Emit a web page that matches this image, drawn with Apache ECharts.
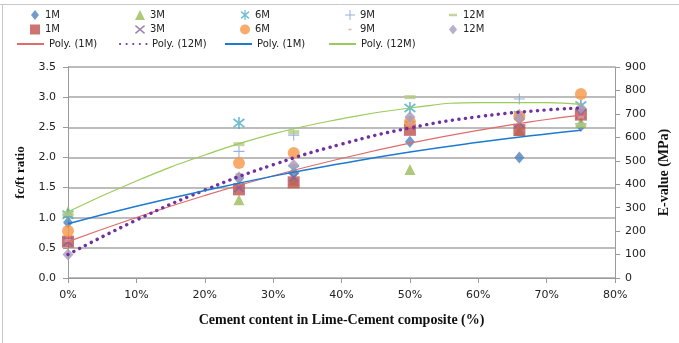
<!DOCTYPE html>
<html><head><meta charset="utf-8">
<script src="https://cdn.jsdelivr.net/npm/echarts@6/dist/echarts.min.js"></script>
<style>html,body{margin:0;padding:0;background:#fff}#c{width:679px;height:343px}</style>
</head><body><div id="c"></div>
<script>
// x positions (% cement)
const xCats = [0, 25, 33, 50, 66, 75];
// fc/ft ratio series (left axis)
const ratio1M  = [0.92, 1.65, 1.74, 2.26, 2.00, 2.52];
const ratio3M  = [1.10, 1.30, 1.62, 1.80, 2.45, 2.58];
const ratio6M  = [1.05, 2.57, 1.80, 2.82, 2.70, 2.86];
const ratio9M  = [1.05, 2.10, 2.37, 2.60, 2.97, 2.56];
const ratio12M = [1.06, 2.22, 2.42, 3.00, 2.72, 2.54];
// E-value series (right axis, MPa)
const E1M  = [155, 378, 408, 632, 631, 697];
const E3M  = [155, 385, 430, 650, 660, 700];
const E6M  = [200, 490, 533, 665, 690, 785];
const E9M  = [160, 440, 480, 655, 704, 687];
const E12M = [100, 430, 482, 687, 683, 725];
// trendline values
const trendX     = [0, 10, 20, 30, 40, 50, 60, 70, 75];
const trendE1M   = [155, 258, 352, 436, 510, 575, 630, 676, 695];
const trendE12M  = [100, 247, 375, 483, 571, 640, 688, 717, 725];
const trendR1M   = [0.90, 1.19, 1.45, 1.69, 1.90, 2.09, 2.25, 2.39, 2.45];
const trendR12M  = [1.10, 1.61, 2.04, 2.39, 2.64, 2.82, 2.91, 2.91, 2.88];
// axis ticks
const xTicks = [0, 10, 20, 30, 40, 50, 60, 70, 80];
const leftTicks = [0, 0.5, 1, 1.5, 2, 2.5, 3, 3.5];
const rightTicks = [0, 100, 200, 300, 400, 500, 600, 700, 800, 900];

const pair = (xs, ys) => xs.map((x, i) => [x, ys[i]]);

const SYM = {
  plus: 'path://M4.5,0H5.5V10H4.5Z M0,4.5H10V5.5H0Z',
  star: 'path://M4.4,0H5.6V10H4.4Z M0.6,2.2L1.4,1.0L9.4,7.8L8.6,9.0Z M8.6,1.0L9.4,2.2L1.4,9.0L0.6,7.8Z',
  cross: 'path://M0.6,2.2L1.4,1.0L9.4,7.8L8.6,9.0Z M8.6,1.0L9.4,2.2L1.4,9.0L0.6,7.8Z',
  dash: 'path://M0,0H10V3H0Z'
};
const PAD = ' M-0.01,-0.01h0.01v0.01h-0.01Z M10,10h0.01v0.01h-0.01Z';
const ICON = {
  diamond: 'path://M5,0L9,5L5,10L1,5Z',
  dash: 'path://M1,3.8H9V6.2H1Z' + PAD,
  smallDash: 'path://M3.5,4.2H6.5V5.8H3.5Z' + PAD,
  rect: 'path://M0.5,0.5H9.5V9.5H0.5Z'
};

const names = {
  r1M: '1M', r3M: '3M', r6M: '6M', r9M: '9M', r12M: '12M',
  E1M: '1M', E3M: '3M', E6M: '6M', E9M: '9M', E12M: '12M',
  tE1M: 'Poly. (1M)', tE12M: 'Poly. (12M)', tR1M: 'Poly. (1M)', tR12M: 'Poly. (12M)'
};

function scat(name, data, yIdx, symbol, size, color) {
  return { name, type: 'scatter', yAxisIndex: yIdx, data: pair(xCats, data),
    symbol, symbolSize: size, itemStyle: { color }, z: 3 };
}
function trend(name, data, yIdx, color, type, width, cap) {
  return { name, type: 'line', yAxisIndex: yIdx, data: pair(trendX, data), smooth: true,
    symbol: 'none', showSymbol: false, lineStyle: { color, type, width, cap: cap || 'butt' },
    itemStyle: { color }, z: 4 };
}

const textStyle = { fontSize: 10, lineHeight: 10, color: '#222', fontFamily: 'DejaVu Sans' };
const symLegendBase = {
  orient: 'vertical', top: 10, padding: 0, itemWidth: 10, itemHeight: 10, itemGap: 4.5,
  textStyle, formatter: n => names[n], selectedMode: false
};
const lineLegendBase = {
  orient: 'horizontal', top: 39, padding: 0, itemWidth: 27, itemHeight: 10,
  textStyle, formatter: n => names[n], selectedMode: false
};
const hideSym = n => ({ name: n, itemStyle: { opacity: 0 } });
const legends = [
  { left: 30, data: [{ name: 'r1M', icon: ICON.diamond }, { name: 'E1M', icon: ICON.rect }] },
  { left: 135, data: ['r3M', { name: 'E3M' }] },
  { left: 240, data: ['r6M', 'E6M'] },
  { left: 345, data: ['r9M', { name: 'E9M', icon: ICON.smallDash }] },
  { left: 448, data: [{ name: 'r12M', icon: ICON.dash }, { name: 'E12M', icon: ICON.diamond }] }
].map(l => Object.assign({}, symLegendBase, l)).concat([
  { left: 16, data: [hideSym('tE1M')] },
  { left: 119, data: [hideSym('tE12M')] },
  { left: 224, data: [hideSym('tR1M')] },
  { left: 328, data: [hideSym('tR12M')] }
].map(l => Object.assign({}, lineLegendBase, l)));

const axisGray = '#9a9a9a';
const labelStyle = { fontSize: 11, color: '#222', fontFamily: 'DejaVu Sans' };
const nameStyle = { fontSize: 14, fontWeight: 'bold', color: '#111', fontFamily: 'Liberation Serif' };

const option = {
  animation: false,
  backgroundColor: '#fff',
  legend: legends,
  grid: { left: 68, right: 60, top: 67, bottom: 65 },
  xAxis: {
    type: 'value', min: xTicks[0], max: xTicks[xTicks.length - 1], interval: 10,
    axisLine: { show: true, lineStyle: { color: axisGray } },
    axisTick: { show: true, length: 5, lineStyle: { color: axisGray } },
    splitLine: { show: false },
    axisLabel: Object.assign({ formatter: '{value}%', margin: 12 }, labelStyle),
    name: 'Cement content in Lime-Cement composite (%)', nameLocation: 'middle', nameGap: 35,
    nameTextStyle: nameStyle
  },
  yAxis: [
    { type: 'value', min: leftTicks[0], max: leftTicks[leftTicks.length - 1], interval: 0.5,
      axisLine: { show: true, lineStyle: { color: axisGray } },
      axisTick: { show: true, length: 5, lineStyle: { color: axisGray } },
      splitLine: { show: true, lineStyle: { color: '#a6a6a6', width: 1.5 } },
      axisLabel: Object.assign({ formatter: v => v.toFixed(1), margin: 12 }, labelStyle),
      name: 'fc/ft ratio', nameLocation: 'middle', nameGap: 34,
      nameTextStyle: Object.assign({}, nameStyle, { fontSize: 13 }) },
    { type: 'value', min: rightTicks[0], max: rightTicks[rightTicks.length - 1], interval: 100,
      position: 'right',
      axisLine: { show: true, lineStyle: { color: axisGray } },
      axisTick: { show: true, length: 5, lineStyle: { color: axisGray } },
      splitLine: { show: false },
      axisLabel: Object.assign({ margin: 10 }, labelStyle),
      name: 'E-value (MPa)', nameLocation: 'middle', nameGap: 35, nameRotate: 90, nameTextStyle: nameStyle }
  ],
  series: [
    scat('r1M', ratio1M, 0, 'diamond', [10, 12], '#4F81BD'),
    scat('r3M', ratio3M, 0, 'triangle', 11, '#9BBB59'),
    scat('r6M', ratio6M, 0, SYM.star, 12, '#4BACC6'),
    scat('r9M', ratio9M, 0, SYM.plus, 11, '#7F9FCF'),
    scat('r12M', ratio12M, 0, SYM.dash, [11, 4], '#B3CC82'),
    scat('E1M', E1M, 1, 'rect', 12, '#C0504D'),
    scat('E3M', E3M, 1, SYM.cross, 10, '#8064A2'),
    scat('E6M', E6M, 1, 'circle', 12, '#F79646'),
    scat('E9M', E9M, 1, SYM.dash, [7, 3], '#E39A9A'),
    scat('E12M', E12M, 1, 'diamond', [11, 12], '#A99BBD'),
    trend('tE1M', trendE1M, 1, '#E06B6B', 'solid', 1.2),
    trend('tE12M', trendE12M, 1, '#7030A0', [0.1, 6.5], 3.4, 'round'),
    trend('tR1M', trendR1M, 0, '#1C7AD1', 'solid', 1.5),
    trend('tR12M', trendR12M, 0, '#9BCB5B', 'solid', 1.2)
  ],
  graphic: [
    { type: 'line', shape: { x1: 0, y1: 4.5, x2: 679, y2: 4.5 }, style: { stroke: '#c8c8c8', lineWidth: 1 } },
    { type: 'line', shape: { x1: 2.5, y1: 4.5, x2: 2.5, y2: 343 }, style: { stroke: '#c8c8c8', lineWidth: 1 } }
  ]
};
const chart = echarts.init(document.getElementById('c'), null, { renderer: 'canvas' });
chart.setOption(option);
</script></body></html>
